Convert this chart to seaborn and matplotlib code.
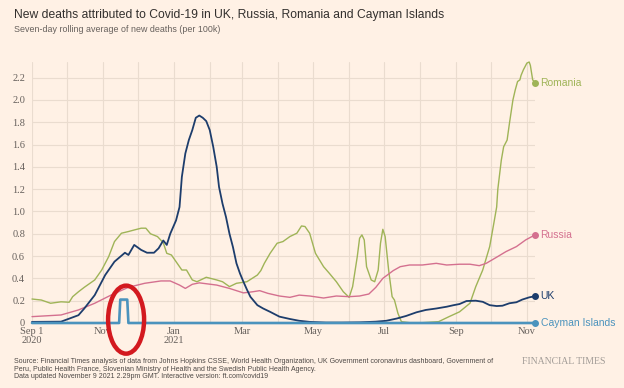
import matplotlib
matplotlib.use("Agg")
import numpy as np
import pandas as pd
import matplotlib.pyplot as plt
import matplotlib.dates as mdates
from matplotlib.patches import Ellipse
import seaborn as sns

# ---------------- data ----------------
uk_dates = ["2020-09-01", "2020-09-26", "2020-10-11", "2020-10-16", "2020-10-25", "2020-11-03",
            "2020-11-11", "2020-11-20", "2020-11-23", "2020-11-28", "2020-12-04", "2020-12-09",
            "2020-12-15", "2020-12-19", "2020-12-23", "2020-12-26", "2020-12-29", "2021-01-03",
            "2021-01-06", "2021-01-08", "2021-01-11", "2021-01-14", "2021-01-17", "2021-01-20",
            "2021-01-23", "2021-01-26", "2021-01-29", "2021-02-01", "2021-02-04", "2021-02-07",
            "2021-02-09", "2021-02-12", "2021-02-15", "2021-02-18", "2021-02-21", "2021-02-24",
            "2021-02-27", "2021-03-02", "2021-03-05", "2021-03-08", "2021-03-14", "2021-03-19",
            "2021-03-25", "2021-04-02", "2021-04-11", "2021-04-19", "2021-04-28", "2021-05-12",
            "2021-05-26", "2021-06-10", "2021-06-24", "2021-07-03", "2021-07-12", "2021-07-20",
            "2021-07-29", "2021-08-06", "2021-08-15", "2021-08-24", "2021-08-30", "2021-09-04",
            "2021-09-10", "2021-09-18", "2021-09-24", "2021-09-30", "2021-10-06", "2021-10-11",
            "2021-10-17", "2021-10-23", "2021-10-28", "2021-11-03", "2021-11-08"]
uk_values = [0.01, 0.012, 0.07, 0.13, 0.25, 0.43,
             0.55, 0.63, 0.61, 0.70, 0.655, 0.63,
             0.63, 0.67, 0.74, 0.70, 0.80, 0.92,
             1.04, 1.31, 1.52, 1.64, 1.73, 1.84,
             1.86, 1.84, 1.81, 1.73, 1.58, 1.40,
             1.22, 1.07, 0.95, 0.80, 0.68, 0.535,
             0.445, 0.37, 0.30, 0.235, 0.16, 0.13,
             0.10, 0.057, 0.036, 0.02, 0.01, 0.004,
             0.004, 0.006, 0.012, 0.02, 0.04, 0.063,
             0.096, 0.117, 0.13, 0.146, 0.16, 0.17,
             0.197, 0.20, 0.19, 0.16, 0.152, 0.155,
             0.177, 0.186, 0.21, 0.23, 0.24]

russia_dates = ["2020-09-01", "2020-09-26", "2020-10-11", "2020-10-25", "2020-11-08", "2020-11-23",
                "2020-12-07", "2020-12-21", "2020-12-29", "2021-01-06", "2021-01-11", "2021-01-17",
                "2021-01-23", "2021-02-07", "2021-02-18", "2021-03-02", "2021-03-10", "2021-03-16",
                "2021-03-23", "2021-04-02", "2021-04-11", "2021-04-19", "2021-04-28", "2021-05-10",
                "2021-05-21", "2021-06-01", "2021-06-10", "2021-06-18", "2021-06-24", "2021-06-30",
                "2021-07-09", "2021-07-15", "2021-07-23", "2021-08-03", "2021-08-15", "2021-08-24",
                "2021-09-04", "2021-09-13", "2021-09-21", "2021-09-27", "2021-10-06", "2021-10-14",
                "2021-10-23", "2021-10-31", "2021-11-08"]
russia_values = [0.057, 0.072, 0.117, 0.177, 0.25, 0.32,
                 0.356, 0.377, 0.377, 0.34, 0.31, 0.347,
                 0.36, 0.34, 0.31, 0.27, 0.28, 0.29,
                 0.266, 0.242, 0.23, 0.25, 0.242, 0.224,
                 0.242, 0.236, 0.242, 0.26, 0.32, 0.40,
                 0.47, 0.505, 0.52, 0.52, 0.535, 0.52,
                 0.527, 0.527, 0.514, 0.535, 0.59, 0.64,
                 0.685, 0.745, 0.79]

romania_dates = ["2020-09-01", "2020-09-09", "2020-09-17", "2020-09-26", "2020-10-03", "2020-10-06",
                 "2020-10-11", "2020-10-16", "2020-10-25", "2020-10-31", "2020-11-06", "2020-11-11",
                 "2020-11-17", "2020-11-23", "2020-11-28", "2020-12-04", "2020-12-08", "2020-12-12",
                 "2020-12-18", "2020-12-23", "2020-12-26", "2020-12-30", "2021-01-04", "2021-01-08",
                 "2021-01-12", "2021-01-17", "2021-01-21", "2021-01-29", "2021-02-07", "2021-02-12",
                 "2021-02-18", "2021-02-24", "2021-03-05", "2021-03-14", "2021-03-17", "2021-03-20",
                 "2021-03-25", "2021-03-31", "2021-04-05", "2021-04-11", "2021-04-17", "2021-04-21",
                 "2021-04-24", "2021-04-28", "2021-05-03", "2021-05-10", "2021-05-15", "2021-05-21",
                 "2021-05-27", "2021-06-01", "2021-06-04", "2021-06-08", "2021-06-10", "2021-06-12",
                 "2021-06-14", "2021-06-16", "2021-06-20", "2021-06-23", "2021-06-26", "2021-06-28",
                 "2021-06-30", "2021-07-02", "2021-07-05", "2021-07-08", "2021-07-10", "2021-07-13",
                 "2021-07-16", "2021-07-23", "2021-08-03", "2021-08-17", "2021-08-26", "2021-09-04",
                 "2021-09-13", "2021-09-18", "2021-09-24", "2021-09-30", "2021-10-04", "2021-10-06",
                 "2021-10-07", "2021-10-10", "2021-10-12", "2021-10-15", "2021-10-17", "2021-10-20",
                 "2021-10-22", "2021-10-24", "2021-10-26", "2021-10-27", "2021-10-29", "2021-11-01",
                 "2021-11-03", "2021-11-04", "2021-11-06", "2021-11-08"]
romania_values = [0.215, 0.206, 0.177, 0.19, 0.186, 0.236,
                  0.28, 0.32, 0.386, 0.475, 0.595, 0.73,
                  0.805, 0.82, 0.834, 0.85, 0.85, 0.80,
                  0.775, 0.72, 0.625, 0.61, 0.535, 0.475,
                  0.475, 0.386, 0.37, 0.41, 0.386, 0.37,
                  0.326, 0.356, 0.37, 0.43, 0.47, 0.535,
                  0.625, 0.715, 0.73, 0.775, 0.805, 0.87,
                  0.865, 0.805, 0.625, 0.505, 0.445, 0.37,
                  0.28, 0.23, 0.326, 0.595, 0.76, 0.79,
                  0.745, 0.505, 0.386, 0.37, 0.475, 0.715,
                  0.84, 0.775, 0.475, 0.236, 0.206, 0.087,
                  0.012, 0.003, 0.003, 0.012, 0.057, 0.10,
                  0.177, 0.326, 0.475, 0.685, 0.92, 1.04,
                  1.2, 1.46, 1.58, 1.64, 1.79, 2.0,
                  2.09, 2.165, 2.18, 2.22, 2.27, 2.33,
                  2.34, 2.31, 2.18, 2.155]

cayman_dates = ["2020-09-01", "2020-11-15", "2020-11-16", "2020-11-22", "2020-11-23", "2021-11-08"]
cayman_values = [0.0, 0.0, 0.21, 0.21, 0.0, 0.0]

countries = ["Cayman Islands", "Romania", "Russia", "UK"]
colors = {"UK": "#1d3d6c", "Russia": "#d4708f", "Romania": "#9fb457", "Cayman Islands": "#4b93bd"}
widths = {"UK": 1.3, "Russia": 1.0, "Romania": 1.0, "Cayman Islands": 1.9}

x_tick_dates = ["2020-09-01", "2020-11-01", "2021-01-01", "2021-03-01",
                "2021-05-01", "2021-07-01", "2021-09-01", "2021-11-01"]
x_tick_labels = ["Sep 1\n2020", "Nov", "Jan\n2021", "Mar", "May", "Jul", "Sep", "Nov"]
y_ticks = [0, 0.2, 0.4, 0.6, 0.8, 1.0, 1.2, 1.4, 1.6, 1.8, 2.0, 2.2]
y_tick_labels = ["0", "0.2", "0.4", "0.6", "0.8", "1.0", "1.2", "1.4", "1.6", "1.8", "2.0", "2.2"]

series = {
    "UK": (uk_dates, uk_values),
    "Russia": (russia_dates, russia_values),
    "Romania": (romania_dates, romania_values),
    "Cayman Islands": (cayman_dates, cayman_values),
}
frames = []
for name, (d, v) in series.items():
    frames.append(pd.DataFrame({"date": pd.to_datetime(d), "value": v, "country": name}))
df = pd.concat(frames, ignore_index=True)

# ---------------- styling ----------------
BG = "#fff1e5"
GRID = "#eadccf"
GREY = "#66605c"
sns.set_theme(style="white")
plt.rcParams["font.family"] = ["Liberation Sans", "DejaVu Sans"]

fig = plt.figure(figsize=(6.24, 3.88), dpi=100, facecolor=BG)
ax = fig.add_axes([32 / 624, 1 - 323 / 388, (535 - 32) / 624, (323 - 62) / 388])
ax.set_facecolor(BG)

for name in countries:
    sub = df[df["country"] == name]
    sns.lineplot(data=sub, x="date", y="value", ax=ax, color=colors[name],
                 linewidth=widths[name], estimator=None, sort=False, legend=False,
                 zorder=3 if name != "Cayman Islands" else 4, clip_on=False)
    last = sub.iloc[-1]
    ax.plot([last["date"]], [last["value"]], "o", ms=4, color=colors[name],
            zorder=5, clip_on=False)
    ax.annotate(name, xy=(last["date"], last["value"]), xytext=(4, 0),
                textcoords="offset points", va="center", ha="left",
                fontsize=7.5, color=colors[name], annotation_clip=False)

ax.set_xlim(pd.Timestamp("2020-09-01"), pd.Timestamp("2021-11-08"))
ax.set_ylim(0, 2.34)

ax.set_xticks(pd.to_datetime(x_tick_dates))
ax.set_xticklabels(x_tick_labels)
ax.xaxis.set_minor_locator(mdates.MonthLocator())
ax.set_yticks(y_ticks)
ax.set_yticklabels(y_tick_labels)

for lab in ax.get_xticklabels() + ax.get_yticklabels():
    lab.set_fontfamily(["Liberation Serif", "DejaVu Serif"])
    lab.set_fontsize(7.5)
    lab.set_color(GREY)
ax.tick_params(axis="both", which="both", length=0)
ax.tick_params(axis="x", pad=3, labelsize=7.5)
ax.tick_params(axis="y", pad=5, labelsize=7.5)
for lab in ax.get_xticklabels():
    lab.set_linespacing(0.95)

ax.grid(True, axis="x", which="both", color=GRID, linewidth=0.8, zorder=0)
ax.grid(True, axis="y", which="major", color=GRID, linewidth=0.8, zorder=0)
ax.set_axisbelow(True)
for s in ax.spines.values():
    s.set_visible(False)
ax.set_xlabel("")
ax.set_ylabel("")

# red ellipse annotation around the Cayman Islands spike
cx = mdates.date2num(pd.Timestamp("2020-11-21"))
ell = Ellipse((cx, 0.03), width=31, height=0.61, fill=False,
              edgecolor="#d3191f", linewidth=3.2, zorder=6, clip_on=False)
ax.add_patch(ell)

# texts
fig.text(14 / 624, 1 - 15 / 388, "New deaths attributed to Covid-19 in UK, Russia, Romania and Cayman Islands",
         fontsize=8.7, color="#33302e", va="center", ha="left")
fig.text(14 / 624, 1 - 30 / 388, "Seven-day rolling average of new deaths (per 100k)",
         fontsize=6.4, color=GREY, va="center", ha="left")
fig.text(14 / 624, 1 - 358 / 388,
         "Source: Financial Times analysis of data from Johns Hopkins CSSE, World Health Organization, UK Government coronavirus dashboard, Government of\n"
         "Peru, Public Health France, Slovenian Ministry of Health and the Swedish Public Health Agency.\n"
         "Data updated November 9 2021 2.29pm GMT. Interactive version: ft.com/covid19",
         fontsize=5.0, color="#4d4845", va="top", ha="left", linespacing=1.15)
fig.text(606 / 624, 1 - 362 / 388, "FINANCIAL TIMES", fontsize=7.0, color="#a29c97",
         va="center", ha="right", family=["Liberation Serif", "DejaVu Serif"])

fig.savefig("out.png", dpi=100, facecolor=BG)
